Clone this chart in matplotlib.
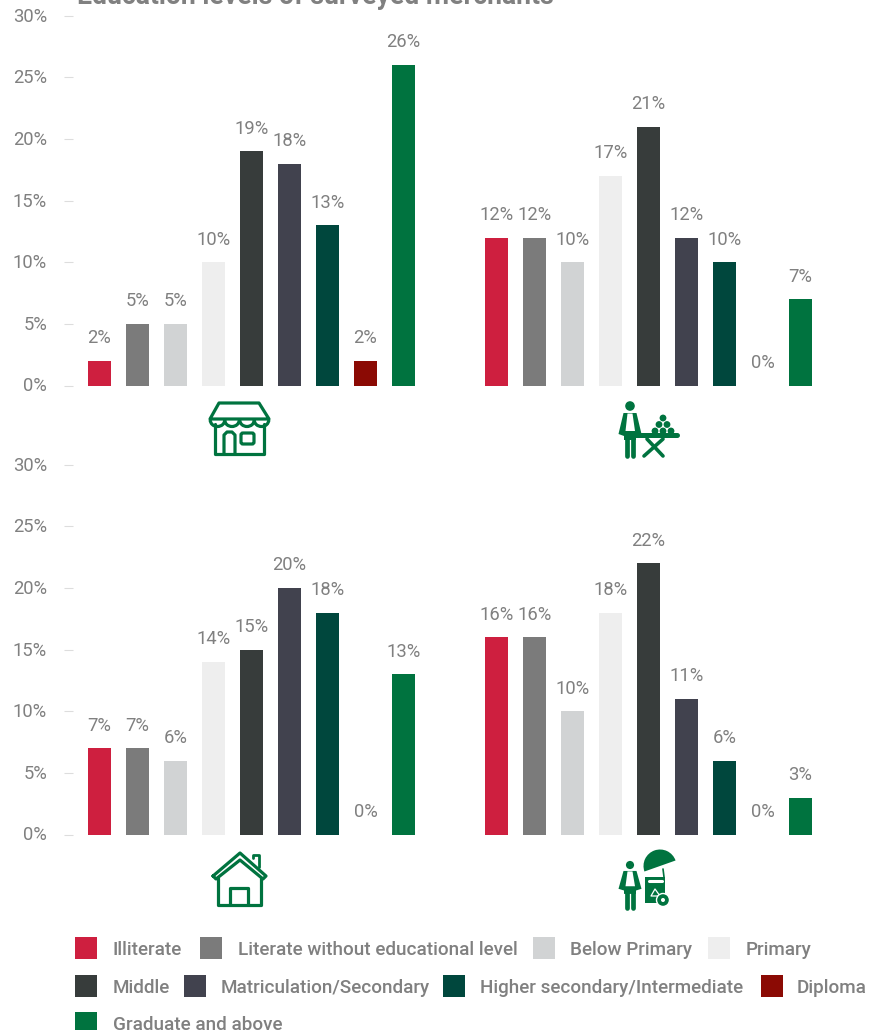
import matplotlib
matplotlib.use('Agg')
import matplotlib.pyplot as plt
import matplotlib.patches as mpatches
from matplotlib.transforms import ScaledTranslation
import numpy as np

plt.rcParams['font.family'] = ['Roboto', 'DejaVu Sans']

# values in percent, order follows the legend
categories = ['Illiterate', 'Literate without educational level', 'Below Primary', 'Primary',
              'Middle', 'Matriculation/Secondary', 'Higher secondary/Intermediate', 'Diploma',
              'Graduate and above']
shop = [2, 5, 5, 10, 19, 18, 13, 2, 26]
vendor = [12, 12, 10, 17, 21, 12, 10, 0, 7]
home = [7, 7, 6, 14, 15, 20, 18, 0, 13]
cart = [16, 16, 10, 18, 22, 11, 6, 0, 3]
colors = ['#CE1F3F', '#7B7B7B', '#D1D3D4', '#EEEEEE', '#373C3B', '#41424E', '#00473D', '#8B0A04', '#00733F']
yticks = [0, 5, 10, 15, 20, 25, 30]

W, H = 878, 1030
grey = '#808080'
green = '#00733F'
fig = plt.figure(figsize=(W / 100, H / 100), dpi=100)


def make_axes(top, bottom, left_vals, right_vals):
    ax = fig.add_axes([73.5 / W, 1 - bottom / H, (W - 73.5) / W, (bottom - top) / H])
    ax.patch.set_alpha(0)
    xs = np.arange(9)
    # 38px between bars, second group shifted by about 397px
    for offset, vals in [(0, left_vals), (397 / 38, right_vals)]:
        ax.bar(xs + offset, vals, width=23 / 38, color=colors)
        for x, v in zip(xs + offset, vals):
            ax.annotate('%d%%' % v, (x, v), xytext=(0, 16.1), textcoords='offset points',
                        ha='center', va='center', fontsize=13.2, color=grey)
    ax.set_xlim(-26 / 38, (W - 99.5) / 38)
    ax.set_ylim(0, 30)
    ax.set_yticks(yticks)
    ax.set_yticklabels(['%d%%' % t for t in yticks], fontsize=13.2, color=grey)
    ax.tick_params(axis='y', length=6.5, width=0.8, color='#DDDDDD', pad=12.5)
    # labels sit a little above their ticks in the original, the 0% one most
    for t, lab in zip(yticks, ax.get_yticklabels()):
        up = 2 if t == 0 else 0.7
        lab.set_transform(lab.get_transform() + ScaledTranslation(0, up / 100, fig.dpi_scale_trans))
    ax.set_xticks([])
    for s in ax.spines.values():
        s.set_visible(False)
    return ax


make_axes(15.5, 385.5, shop, vendor)
make_axes(464.5, 834.5, home, cart)

# overlay in pixel coordinates for title, icons and legend
ov = fig.add_axes([0, 0, 1, 1])
ov.set_xlim(0, W)
ov.set_ylim(H, 0)
ov.axis('off')
ov.patch.set_alpha(0)

ov.text(77, 4.5, 'Education levels of surveyed merchants', fontsize=19.2, fontweight='bold',
        color=grey, ha='left', va='baseline')


def poly(pts, lw=2.3):
    ov.add_patch(mpatches.Polygon(pts, closed=True, facecolor='none', edgecolor=green, lw=lw,
                                  joinstyle='round'))


def solid(pts, fc=green):
    ov.add_patch(mpatches.Polygon(pts, closed=True, facecolor=fc, edgecolor='none'))


def line(pts, lw=2.3, col=green):
    ov.plot([p[0] for p in pts], [p[1] for p in pts], color=col, lw=lw, solid_capstyle='round',
            solid_joinstyle='round')


def circle(x, y, r, fc=green):
    ov.add_patch(mpatches.Circle((x, y), r, facecolor=fc, edgecolor='none'))


def person(cx, head_y, k=1.0):
    # small figure with apron, k scales the height
    circle(cx, head_y, 4.8 * k)
    solid([(cx - 6.5, head_y + 7 * k), (cx + 6.5, head_y + 7 * k), (cx + 11.5, head_y + 28 * k),
           (cx + 6, head_y + 30 * k), (cx + 6, head_y + 34 * k), (cx - 6, head_y + 34 * k),
           (cx - 6, head_y + 30 * k), (cx - 11.5, head_y + 28 * k)])
    solid([(cx - 2.5, head_y + 7.5 * k), (cx + 2.5, head_y + 7.5 * k), (cx + 5, head_y + 25 * k),
           (cx - 4.5, head_y + 25 * k)], fc='white')
    line([(cx - 3.2, head_y + 33 * k), (cx - 3.2, head_y + 50 * k)], lw=3.4)
    line([(cx + 3.2, head_y + 33 * k), (cx + 3.2, head_y + 50 * k)], lw=3.4)


# shop icon
poly([(219, 403), (259, 403), (269, 419), (210, 419)])
for c in [217.5, 232, 247, 261.5]:
    ov.add_patch(mpatches.Arc((c, 420), 14.5, 13, theta1=0, theta2=180, color=green, lw=2.3))
line([(215, 424), (215, 454), (264, 454), (264, 424)])
line([(224, 453), (224, 435), (227, 432), (232, 432), (235, 435), (235, 453)])
ov.add_patch(mpatches.FancyBboxPatch((241, 433), 13, 11, boxstyle='round,pad=0,rounding_size=2',
                                     fill=False, edgecolor=green, lw=2.3))

# table vendor icon
person(630, 406)
line([(631, 435), (677, 435)], lw=3.6)
line([(644, 456), (663, 439)], lw=2.6)
line([(647, 439), (663, 456)], lw=2.6)
for x, y in [(663, 418), (659, 424.5), (667, 424.5), (655, 431), (663, 431), (671, 431)]:
    circle(x, y, 3.4)

# house icon
line([(213, 876), (240, 853), (266, 876), (263, 879), (240, 860), (216, 879), (213, 876)])
line([(253, 858), (253, 855), (259, 855), (259, 867)], lw=2)
line([(218, 878), (218, 905), (261, 905), (261, 878)])
line([(230, 904), (230, 888), (248, 888), (248, 904)])

# cart vendor icon
person(630, 865, k=0.85)
ov.add_patch(mpatches.Wedge((660, 866), 16.5, 160.5, 340.5, facecolor=green, edgecolor='none'))
line([(663, 869), (664, 877)], lw=1.2)
ov.add_patch(mpatches.Rectangle((645, 877), 20, 26, facecolor=green, edgecolor='none'))
line([(649, 881), (662, 881)], lw=2.2, col='white')
poly([(651, 896), (655, 889), (660, 896)], lw=0.9)
ov.patches[-1].set_edgecolor('white')
ov.add_patch(mpatches.Circle((663, 900), 6.5, facecolor=green, edgecolor='white', lw=1))
circle(663, 900, 2, fc='white')

# legend, rows wrap unevenly so placed by hand
legend_pos = [(75, 948, 113), (200, 948, 238), (533, 948, 570), (708, 948, 746),
              (75, 986, 113), (184, 986, 221), (443, 986, 480), (761, 986, 797),
              (75, 1023, 113)]
for (sx, sy, tx), name, col in zip(legend_pos, categories, colors):
    ov.add_patch(mpatches.Rectangle((sx, sy - 11), 22, 22, facecolor=col, edgecolor='none'))
    ov.text(tx, sy + 2, name, fontsize=13.6, color=grey, ha='left', va='center', fontweight='medium')

plt.savefig('out.png', dpi=100)
